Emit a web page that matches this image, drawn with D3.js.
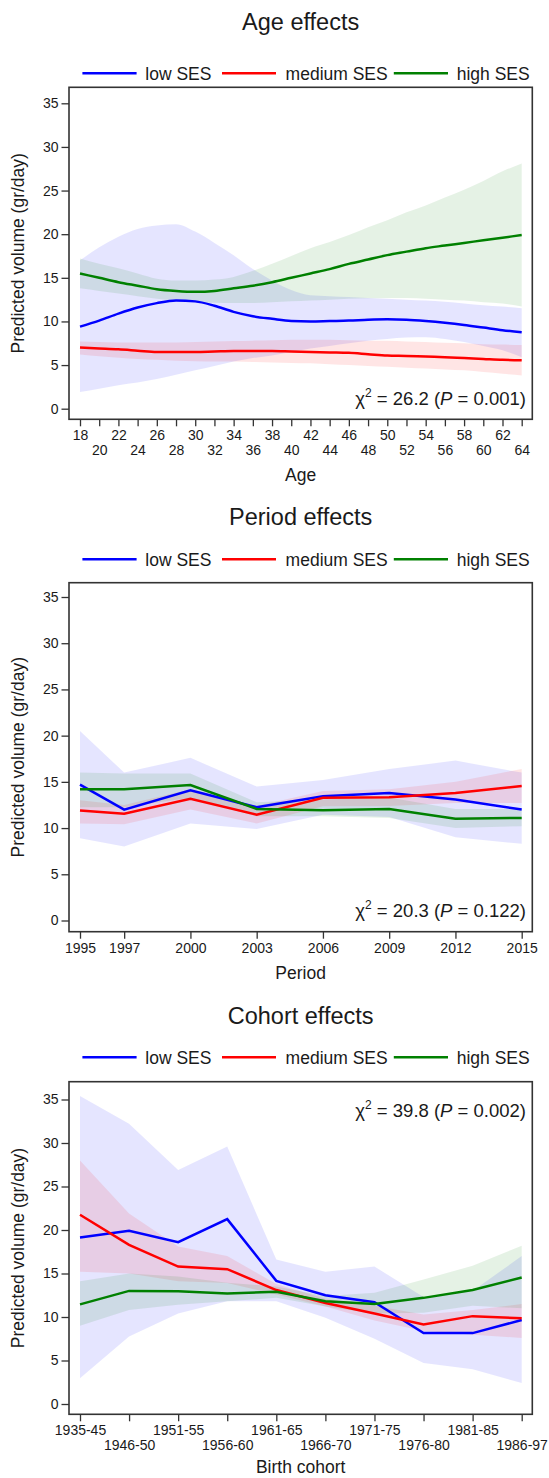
<!DOCTYPE html>
<html><head><meta charset="utf-8">
<script src="https://cdn.jsdelivr.net/npm/d3@7"></script>
<style>
body{margin:0;background:#fff;}
text{font-family:"Liberation Sans",Arial,Helvetica,sans-serif;fill:#1a1a1a;}
</style></head>
<body><svg id="c" width="549" height="1478"></svg>
<script>
// ---------- DATA ----------
const seriesNames = ["low SES","medium SES","high SES"];
const seriesColors = ["#0000ff","#ff0000","#008000"];
const yTicks = [0,5,10,15,20,25,30,35];

// Age panel
const ages = [18,20,22,24,26,28,30,32,34,36,38,40,42,44,46,48,50,52,54,56,58,60,62,64];
const ageLow      = [9.4,10.1,10.9,11.6,12.1,12.4,12.3,11.8,11.1,10.6,10.3,10.05,10.0,10.05,10.1,10.2,10.25,10.2,10.05,9.85,9.6,9.3,9.0,8.75];
const ageLowHi    = [17.0,18.5,19.7,20.6,21.0,21.15,20.3,19.0,17.6,16.0,14.7,13.6,13.0,12.9,12.8,12.7,12.6,12.5,12.4,12.25,12.05,11.85,11.7,11.5];
const ageLowLo    = [1.9,2.3,2.7,3.0,3.4,3.9,4.4,4.9,5.4,5.8,6.1,6.5,6.9,7.2,7.5,7.8,8.0,8.15,8.2,8.0,7.65,7.2,6.7,5.9];
const ageMed      = [7.0,6.9,6.8,6.65,6.5,6.5,6.5,6.55,6.6,6.6,6.6,6.55,6.5,6.45,6.4,6.25,6.1,6.05,5.97,5.9,5.8,5.7,5.6,5.55];
const ageMedHi    = [7.7,7.65,7.6,7.6,7.6,7.6,7.65,7.7,7.75,7.8,7.85,7.9,7.9,7.9,7.85,7.8,7.8,7.7,7.65,7.55,7.5,7.4,7.35,7.3];
const ageMedLo    = [6.2,6.0,5.85,5.7,5.6,5.5,5.45,5.4,5.4,5.35,5.3,5.25,5.2,5.1,5.0,4.9,4.8,4.7,4.6,4.5,4.4,4.2,4.0,3.8];
const ageHigh     = [15.5,15.0,14.5,14.1,13.7,13.5,13.4,13.5,13.8,14.1,14.5,15.0,15.5,16.0,16.6,17.1,17.6,18.0,18.4,18.7,19.0,19.3,19.6,19.9];
const ageHighHi   = [17.2,16.6,16.1,15.5,14.9,14.7,14.7,14.8,15.1,15.8,16.6,17.5,18.4,19.1,19.9,20.8,21.6,22.5,23.3,24.2,25.1,26.1,27.2,28.1];
const ageHighLo   = [13.8,13.5,13.2,12.9,12.6,12.4,12.2,12.15,12.1,12.1,12.2,12.3,12.4,12.5,12.6,12.65,12.7,12.7,12.6,12.5,12.4,12.2,12.05,11.7];

// Period panel
const periods = [1995,1997,2000,2003,2006,2009,2012,2015];
const perLow    = [14.7,12.0,14.1,12.25,13.45,13.8,13.1,12.0];
const perLowHi  = [20.5,16.0,17.6,14.5,15.2,16.4,17.3,16.0];
const perLowLo  = [8.9,8.0,10.5,9.9,11.45,11.2,9.0,8.3];
const perMed    = [11.9,11.56,13.16,11.45,13.27,13.34,13.8,14.55];
const perMedHi  = [13.0,12.5,14.2,12.4,14.0,14.2,15.0,16.4];
const perMedLo  = [10.5,10.4,12.0,10.5,12.36,12.4,12.7,12.7];
const perHigh   = [14.2,14.2,14.65,12.07,11.92,12.07,11.0,11.1];
const perHighHi = [16.0,15.9,15.9,12.8,13.1,13.3,12.07,12.07];
const perHighLo = [12.25,12.25,13.27,11.27,11.27,11.1,10.0,10.2];

// Cohort panel
const cohorts = ["1935-45","1946-50","1951-55","1956-60","1961-65","1966-70","1971-75","1976-80","1981-85","1986-97"];
const cohLow    = [19.15,19.9,18.6,21.25,14.15,12.5,11.7,8.15,8.15,9.65];
const cohLowHi  = [35.4,32.2,26.9,29.6,16.6,15.2,15.8,12.3,13.0,17.0];
const cohLowLo  = [2.95,7.75,10.4,11.8,11.8,9.9,7.5,4.7,4.0,2.4];
const cohMed    = [21.75,18.3,15.8,15.5,13.1,11.6,10.4,9.15,10.1,9.85];
const cohMedHi  = [28.0,21.9,18.1,17.0,13.8,12.1,11.3,10.3,10.8,11.5];
const cohMedLo  = [15.2,15.0,14.1,13.9,12.6,11.2,9.6,8.4,7.95,7.6];
const cohHigh   = [11.45,13.0,12.95,12.7,12.9,11.8,11.5,12.2,13.1,14.55];
const cohHighHi = [14.1,15.0,14.65,13.95,13.5,12.4,12.8,14.3,15.9,18.2];
const cohHighLo = [9.0,10.8,11.4,11.8,12.2,11.2,10.4,10.5,11.3,11.0];

// ---------- DRAW ----------
const svg = d3.select("#c");
const FL = 69, FR = 532.3, XL = 80, XR = 521.7;

function legend(y){
  const g = svg.append("g");
  const items = [[82.4,136.6,145.3],[222,276,285.6],[393.8,448,456.7]];
  items.forEach((it,i)=>{
    g.append("line").attr("x1",it[0]).attr("x2",it[1]).attr("y1",y).attr("y2",y)
      .attr("stroke",seriesColors[i]).attr("stroke-width",2.5);
    g.append("text").attr("x",it[2]).attr("y",y+6.3).attr("font-size",17.5).text(seriesNames[i]);
  });
}

function chi(g,x,y,val,p){
  const t = g.append("text").attr("x",x).attr("y",y).attr("text-anchor","end").attr("font-size",18.5);
  t.append("tspan").text("\u03C7");
  t.append("tspan").attr("font-size",12).attr("dy",-8).text("2");
  t.append("tspan").attr("dy",8).text(" = "+val+" (");
  t.append("tspan").attr("font-style","italic").text("P");
  t.append("tspan").text(" = "+p+")");
}

function panel(cfg){
  const {title,titleY,legendY,top,bottom,y0,y35,xScale,xs,bands,lines,curve,xTickVals,xTickFmt,twoRows,xTitle,xTitleY,chiText,chiY} = cfg;
  svg.append("text").attr("x",(FL+FR)/2).attr("y",titleY).attr("text-anchor","middle").attr("font-size",23.5).text(title);
  legend(legendY);
  const y = d3.scaleLinear().domain([0,35]).range([y0,y35]);
  const g = svg.append("g");
  bands.forEach((b,i)=>{
    const area = d3.area().x((d,j)=>xScale(xs[j])).y0((d,j)=>y(b[1][j])).y1((d,j)=>y(b[0][j])).curve(curve);
    g.append("path").datum(xs).attr("d",area).attr("fill",seriesColors[i]).attr("fill-opacity",0.1);
  });
  lines.forEach((l,i)=>{
    const line = d3.line().x((d,j)=>xScale(xs[j])).y((d,j)=>y(l[j])).curve(curve);
    g.append("path").datum(xs).attr("d",line).attr("fill","none").attr("stroke",seriesColors[i]).attr("stroke-width",2.5);
  });
  svg.append("rect").attr("x",FL).attr("y",top).attr("width",FR-FL).attr("height",bottom-top)
    .attr("fill","none").attr("stroke","#333").attr("stroke-width",1.6);
  const ya = svg.append("g").attr("transform",`translate(${FL},0)`)
    .call(d3.axisLeft(y).tickValues(yTicks).tickSize(7.5).tickPadding(3));
  ya.select(".domain").remove();
  ya.selectAll("line").attr("stroke","#333").attr("stroke-width",1.3);
  ya.selectAll("text").attr("font-size",14).attr("fill","#1a1a1a").attr("font-family","Liberation Sans, Arial, sans-serif");
  svg.append("text").attr("transform",`translate(24,${(top+bottom)/2}) rotate(-90)`)
    .attr("text-anchor","middle").attr("font-size",17.5).text("Predicted volume (gr/day)");
  const xa = svg.append("g").attr("transform",`translate(0,${bottom})`)
    .call(d3.axisBottom(xScale).tickValues(xTickVals).tickFormat(xTickFmt).tickSize(7).tickPadding(3));
  xa.select(".domain").remove();
  xa.selectAll("line").attr("stroke","#333").attr("stroke-width",1.3);
  xa.selectAll("text").attr("font-size",14).attr("fill","#1a1a1a").attr("font-family","Liberation Sans, Arial, sans-serif")
    .attr("dy",null).attr("y",(d,i)=> (twoRows && i%2===1) ? 36 : 21);
  svg.append("text").attr("x",(FL+FR)/2).attr("y",xTitleY).attr("text-anchor","middle").attr("font-size",17.5).text(xTitle);
  chi(svg, 526, chiY, chiText[0], chiText[1]);
}

panel({
  title:"Age effects", titleY:30, legendY:73.3, top:87.3, bottom:419.3, y0:408.7, y35:103.3,
  xScale:d3.scaleLinear().domain([18,64]).range([XL,XR]), xs:ages,
  bands:[[ageLowHi,ageLowLo],[ageMedHi,ageMedLo],[ageHighHi,ageHighLo]],
  lines:[ageLow,ageMed,ageHigh], curve:d3.curveMonotoneX,
  xTickVals:ages, xTickFmt:d=>d, twoRows:true, xTitle:"Age", xTitleY:481,
  chiText:["26.2","0.001"], chiY:405
});
panel({
  title:"Period effects", titleY:525, legendY:559.3, top:582.7, bottom:931.7, y0:920.5, y35:597,
  xScale:d3.scaleLinear().domain([1995,2015]).range([XL,XR]), xs:periods,
  bands:[[perLowHi,perLowLo],[perMedHi,perMedLo],[perHighHi,perHighLo]],
  lines:[perLow,perMed,perHigh], curve:d3.curveLinear,
  xTickVals:periods, xTickFmt:d=>d, twoRows:false, xTitle:"Period", xTitleY:979.3,
  chiText:["20.3","0.122"], chiY:917.3
});
panel({
  title:"Cohort effects", titleY:1024, legendY:1057.3, top:1081.7, bottom:1414.3, y0:1404, y35:1099.5,
  xScale:d3.scalePoint().domain(cohorts).range([XL,XR]), xs:cohorts,
  bands:[[cohLowHi,cohLowLo],[cohMedHi,cohMedLo],[cohHighHi,cohHighLo]],
  lines:[cohLow,cohMed,cohHigh], curve:d3.curveLinear,
  xTickVals:cohorts, xTickFmt:d=>d, twoRows:true, xTitle:"Birth cohort", xTitleY:1473,
  chiText:["39.8","0.002"], chiY:1117
});
</script></body></html>
